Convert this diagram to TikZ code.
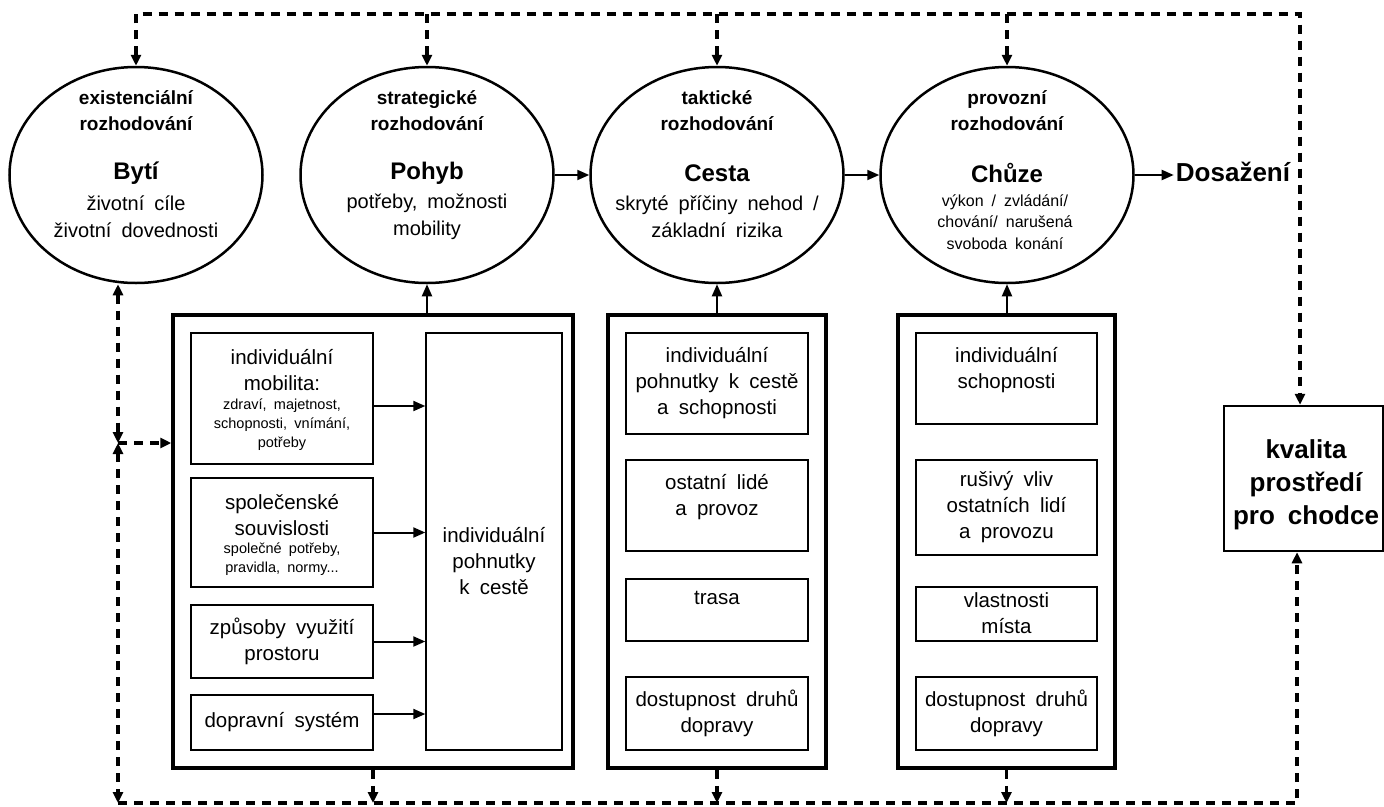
\documentclass[tikz,border=0pt]{standalone}
\usepackage{fontspec}
\setmainfont{Liberation Sans}[WordSpace=1.8]
\usetikzlibrary{shapes.geometric,arrows.meta,calc}
\newcommand{\fsz}[2]{\fontsize{#1}{#2}\selectfont}
\begin{document}
\begin{tikzpicture}[x=1pt,y=-1pt,
  ell/.style={ellipse,draw,line width=2.5pt,minimum width=253pt,minimum height=216pt,inner sep=0pt},
  grp/.style={draw,line width=3.5pt,inner sep=0pt},
  ibox/.style={draw,line width=1.4pt,inner sep=0pt,align=center,font=\fsz{20.5}{26}},
  ttl/.style={align=center,inner sep=0pt,font=\bfseries\fsz{19}{26}},
  big/.style={align=center,inner sep=0pt,font=\bfseries\fsz{24}{28}},
  sub/.style={align=center,inner sep=0pt,font=\fsz{20}{27}},
  txt/.style={align=center,inner sep=0pt,font=\fsz{20.5}{26}},
  sml/.style={align=center,inner sep=0pt,font=\fsz{14.5}{19}},
  arr/.style={line width=2pt,-{Triangle[length=12pt,width=10pt]}},
  dsh/.style={line width=3.5pt,dash pattern=on 9pt off 7pt},
  dtip/.style={-{Triangle[length=11pt,width=10pt]}},
  dtips/.style={{Triangle[length=11pt,width=10pt]}-{Triangle[length=11pt,width=10pt]}},
]
\useasboundingbox (0,0) rectangle (1384,806);

% ellipses
\node[ell] (byti)  at (136,175) {};
\node[ell] (pohyb) at (427,175) {};
\node[ell] (cesta) at (717,175) {};
\node[ell] (chuze) at (1007,175) {};

\node[ttl] (t1) at (136,111) {existenciální\\rozhodování};
\node[big] (b1) at (136,173) {Bytí};
\node[sub] (s1) at (136,217) {životní cíle\\životní dovednosti};

\node[ttl] (t2) at (427,111) {strategické\\rozhodování};
\node[big] (b2) at (427,173) {Pohyb};
\node[sub] (s2) at (427,217) {potřeby, možnosti\\mobility};

\node[ttl] (t3) at (717,111) {taktické\\rozhodování};
\node[big] (b3) at (717,173) {Cesta};
\node[sub] (s3) at (717,217) {skryté příčiny nehod /\\základní rizika};

\node[ttl] (t4) at (1007,111) {provozní\\rozhodování};
\node[big] (b4) at (1007,173) {Chůze};
\node[align=center,inner sep=0pt,font=\fsz{16}{21.5}] (s4) at (1005,222) {výkon / zvládání/\\chování/ narušená\\svoboda konání};

\node[inner sep=2pt,font=\bfseries\fsz{26}{30}] (dos) at (1233,172) {Dosažení};

% group boxes
\node[grp,minimum width=400pt,minimum height=453pt] (g1) at (373,541.5) {};
\node[grp,minimum width=218pt,minimum height=453pt] (g2) at (717,541.5) {};
\node[grp,minimum width=217pt,minimum height=453pt] (g3) at (1006.5,541.5) {};

% group 1 inner boxes
\node[ibox,minimum width=182pt,minimum height=131pt] (mob) at (282,398.5) {};
\node[txt] (mobt) at (282,370) {individuální\\mobilita:};
\node[sml] (mobs) at (282,425) {zdraví, majetnost,\\schopnosti, vnímání,\\potřeby};

\node[ibox,minimum width=182pt,minimum height=109pt] (spol) at (282,532.5) {};
\node[txt] (spolt) at (282,515) {společenské\\souvislosti};
\node[sml] (spols) at (282,559.5) {společné potřeby,\\pravidla, normy...};

\node[ibox,minimum width=182pt,minimum height=73pt] (zpus) at (282,641.5) {způsoby využití\\prostoru};
\node[ibox,minimum width=182pt,minimum height=55pt] (dop) at (282,722.5) {dopravní systém};

\node[ibox,minimum width=136pt,minimum height=417pt] (tall) at (494,541.5) {};
\node[txt] (tallt) at (494,561) {individuální\\pohnutky\\k cestě};

% group 2 inner boxes
\node[ibox,minimum width=182pt,minimum height=101pt] (c1) at (717,383.5) {individuální\\pohnutky k cestě\\a schopnosti};
\node[ibox,minimum width=182pt,minimum height=91pt] (c2) at (717,505.5) {};
\node[txt] (c2t) at (717,497) {ostatní lidé\\a provoz};
\node[ibox,minimum width=182pt,minimum height=62pt] (c3) at (717,610) {};
\node[txt] (c3t) at (717,598) {trasa};
\node[ibox,minimum width=182pt,minimum height=73pt] (c4) at (717,713.5) {dostupnost druhů\\dopravy};

% group 3 inner boxes
\node[ibox,minimum width=181pt,minimum height=91pt] (w1) at (1006.5,378.5) {};
\node[txt] (w1t) at (1006.5,370) {individuální\\schopnosti};
\node[ibox,minimum width=181pt,minimum height=95pt] (w2) at (1006.5,507.5) {rušivý vliv\\ostatních lidí\\a provozu};
\node[ibox,minimum width=181pt,minimum height=54pt] (w3) at (1006.5,614) {};
\node[txt] (w3t) at (1006.5,613) {vlastnosti\\místa};
\node[ibox,minimum width=181pt,minimum height=73pt] (w4) at (1006.5,713.5) {dostupnost druhů\\dopravy};

% quality box
\node[draw,line width=2.5pt,inner sep=0pt,minimum width=159pt,minimum height=145pt] (kval) at (1303.5,478.5) {};
\node[align=center,inner sep=0pt,font=\bfseries\fsz{26}{33}] (kvalt) at (1306,485) {kvalita\\prostředí\\pro chodce};

% solid connectors
\draw[arr] (pohyb.east) -- (cesta.west);
\draw[arr] (cesta.east) -- (chuze.west);
\draw[arr] (chuze.east) -- (chuze.east -| dos.west);
\draw[arr] (pohyb.south |- g1.north) -- (pohyb.south);
\draw[arr] (cesta.south |- g2.north) -- (cesta.south);
\draw[arr] (chuze.south |- g3.north) -- (chuze.south);
\draw[arr] ($(mob.east)+(0,7.5)$) -- ($(mob.east -| tall.west)+(0,7.5)$);
\draw[arr] (spol.east) -- (spol.east -| tall.west);
\draw[arr] (zpus.east) -- (zpus.east -| tall.west);
\draw[arr] ($(dop.east)+(0,-8.5)$) -- ($(dop.east -| tall.west)+(0,-8.5)$);

% dashed feedback
\coordinate (tl) at (136,14);
\coordinate (tr) at (1300,14);
\coordinate (bl) at (118,803);
\coordinate (br) at (1297,803);
\coordinate (jn) at (118,443);

\draw[dsh,dtips] (byti.north) -- (tl) -- (tr) -- (tr |- kval.north);
\draw[dsh,dtip] (pohyb.north |- tl) -- (pohyb.north);
\draw[dsh,dtip] (cesta.north |- tl) -- (cesta.north);
\draw[dsh,dtip] (chuze.north |- tl) -- (chuze.north);

\draw[dsh,dtip] (bl) -- (br) -- (br |- kval.south);
\draw[dsh,dtips] (jn |- byti.south) -- (jn);
\draw[dsh,dtips] (jn) -- (bl);
\draw[dsh,dtip] (jn) -- (jn -| g1.west);
\draw[dsh,dtip] (g1.south) -- (g1.south |- bl);
\draw[dsh,dtip] (g2.south) -- (g2.south |- bl);
\draw[dsh,dtip] (g3.south) -- (g3.south |- bl);
\end{tikzpicture}
\end{document}
